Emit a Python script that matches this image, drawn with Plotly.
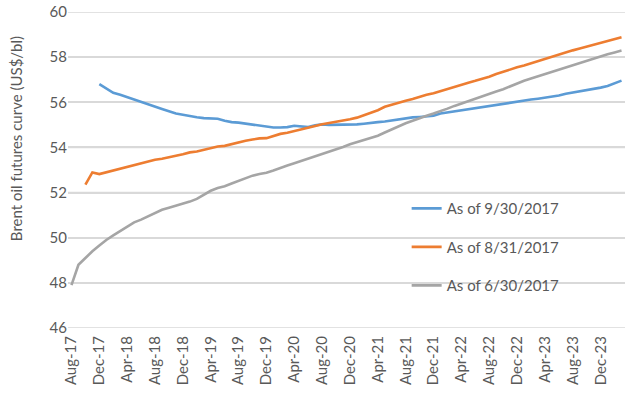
import pandas as pd
import plotly.graph_objects as go

# Monthly contract labels, Aug-17 .. Mar-24
months = [d.strftime("%b-%y") for d in pd.date_range("2017-08-01", "2024-03-01", freq="MS")]
tick_labels = months[::4]
y_ticks = [46, 48, 50, 52, 54, 56, 58, 60]

# As of 6/30/2017 (starts Aug-17)
jun30 = [47.9, 48.8, 49.1, 49.4, 49.65, 49.9, 50.1, 50.3, 50.5, 50.68,
         50.8, 50.95, 51.1, 51.24, 51.33, 51.42, 51.5, 51.6, 51.72, 51.9,
         52.08, 52.2, 52.28, 52.4, 52.52, 52.62, 52.75, 52.82, 52.88, 52.98,
         53.1, 53.2, 53.3, 53.4, 53.5, 53.6, 53.72, 53.82, 53.93, 54.02,
         54.14, 54.24, 54.34, 54.44, 54.52, 54.66, 54.8, 54.95, 55.07, 55.18,
         55.3, 55.4, 55.5, 55.6, 55.72, 55.84, 55.95, 56.05, 56.18, 56.28,
         56.38, 56.48, 56.58, 56.7, 56.85, 56.95, 57.05, 57.15, 57.26, 57.36,
         57.45, 57.55, 57.65, 57.75, 57.85, 57.95, 58.05, 58.13, 58.21, 58.29]

# As of 8/31/2017 (starts Oct-17)
aug31 = [None, None,
         52.35, 52.89, 52.82, 52.9, 52.98, 53.05, 53.12, 53.2,
         53.28, 53.38, 53.45, 53.5, 53.58, 53.63, 53.7, 53.78, 53.82, 53.9,
         53.98, 54.04, 54.07, 54.15, 54.22, 54.3, 54.35, 54.4, 54.41, 54.5,
         54.6, 54.65, 54.72, 54.8, 54.85, 54.95, 55.03, 55.08, 55.13, 55.2,
         55.25, 55.32, 55.42, 55.52, 55.65, 55.8, 55.9, 55.98, 56.07, 56.15,
         56.25, 56.33, 56.4, 56.5, 56.58, 56.67, 56.77, 56.87, 56.95, 57.03,
         57.13, 57.25, 57.36, 57.45, 57.55, 57.63, 57.73, 57.82, 57.92, 58.02,
         58.12, 58.22, 58.3, 58.38, 58.46, 58.55, 58.64, 58.72, 58.78, 58.88]

# As of 9/30/2017 (starts Dec-17)
sep30 = [None, None, None, None,
         56.8, 56.6, 56.42, 56.33, 56.22, 56.12,
         56.0, 55.9, 55.8, 55.7, 55.6, 55.5, 55.45, 55.38, 55.34, 55.3,
         55.27, 55.27, 55.18, 55.12, 55.1, 55.05, 55.02, 54.98, 54.9, 54.88,
         54.88, 54.9, 54.96, 54.93, 54.9, 54.98, 55.02, 55.0, 55.0, 55.0,
         55.0, 55.02, 55.05, 55.07, 55.12, 55.15, 55.2, 55.25, 55.3, 55.33,
         55.35, 55.36, 55.4, 55.5, 55.55, 55.6, 55.65, 55.7, 55.75, 55.8,
         55.85, 55.88, 55.93, 55.98, 56.02, 56.07, 56.12, 56.16, 56.2, 56.25,
         56.3, 56.38, 56.43, 56.48, 56.53, 56.58, 56.65, 56.72, 56.85, 56.96]

series = [
    ("As of 9/30/2017", sep30, "#5B9BD5"),
    ("As of 8/31/2017", aug31, "#ED7D31"),
    ("As of 6/30/2017", jun30, "#A5A5A5"),
]

FONT = "Lato, 'Open Sans', sans-serif"
fig = go.Figure()
for i, (name, vals, color) in enumerate(series):
    fig.add_trace(go.Scatter(
        x=months, y=vals, name=name, mode="lines",
        line=dict(color=color, width=2.6), connectgaps=False,
        legendgroup=f"g{i}",
    ))

# horizontal gridlines at the y tick values, placed through the y axis scale
for v in y_ticks:
    fig.add_shape(type="line", xref="paper", yref="y", x0=0, x1=1, y0=v, y1=v,
                  line=dict(color="#D9D9D9", width=1.5), layer="between")

fig.update_layout(
    template="none",
    width=631, height=395,
    margin=dict(l=68, r=6, t=12, b=67, pad=0),
    paper_bgcolor="white", plot_bgcolor="rgba(0,0,0,0)",
    font=dict(family=FONT, color="#595959", size=13),
    showlegend=True,
    legend=dict(
        x=0.608, y=0.43, xanchor="left", yanchor="top",
        bgcolor="rgba(0,0,0,0)", font=dict(size=15, color="#595959"),
        tracegroupgap=16, itemwidth=30, traceorder="grouped",
    ),
    xaxis=dict(
        type="category", categoryorder="array", categoryarray=months,
        tickmode="array", tickvals=tick_labels, ticktext=tick_labels,
        tickangle=-90, showgrid=False, zeroline=False, showline=False,
        ticks="", tickfont=dict(size=15, color="#595959"),
        range=[-0.5, 79.5], automargin=False, ticklabelstandoff=4,
    ),
    yaxis=dict(
        range=[46, 60], tickmode="array", tickvals=y_ticks,
        showgrid=True, gridcolor="#D9D9D9", gridwidth=1.5,
        zeroline=False, showline=False, ticks="",
        tickfont=dict(size=15, color="#595959"), automargin=False,
    ),
    annotations=[dict(
        text="Brent oil futures curve (US$/bl)", textangle=-90,
        xref="paper", yref="paper", x=-0.092, y=0.6,
        xanchor="center", yanchor="middle", showarrow=False,
        font=dict(size=15, color="#595959"),
    )],
)

fig.write_html(
    "out.html",
    config={"displayModeBar": False},
    post_script="document.body.style.margin='0';document.body.style.overflow='hidden';",
)
